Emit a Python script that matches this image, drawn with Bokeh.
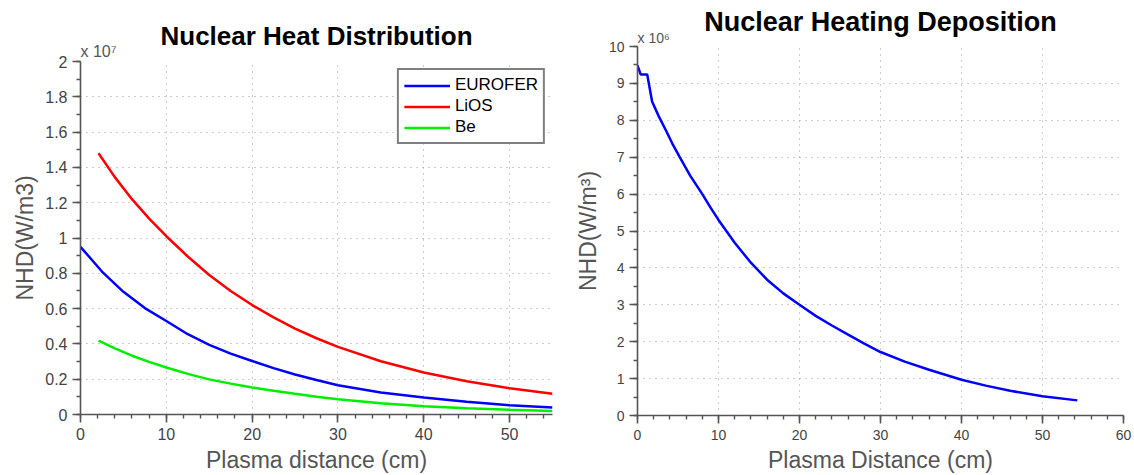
from bokeh.plotting import figure
from bokeh.models import Legend, LegendItem, FixedTicker, Range1d, Title
from bokeh.embed import file_html
from bokeh.resources import INLINE

# ---------------- data ----------------
# Left chart: Nuclear Heat Distribution, NHD in units of 1e7 W/m3
eurofer_x = [0, 2.5, 5, 7.5, 10, 12.5, 15, 17.5, 20, 22.5, 25, 27.5, 30, 35, 40, 45, 50, 55]
eurofer_nhd = [0.95, 0.81, 0.695, 0.603, 0.53, 0.455, 0.395, 0.345, 0.303, 0.263, 0.227,
               0.195, 0.166, 0.125, 0.096, 0.072, 0.053, 0.040]
lios_x = [2.1, 4, 6, 8, 10, 12.5, 15, 17.5, 20, 22.5, 25, 27.5, 30, 35, 40, 45, 50, 55]
lios_nhd = [1.48, 1.345, 1.22, 1.11, 1.01, 0.895, 0.79, 0.70, 0.62, 0.55, 0.487, 0.432,
            0.383, 0.302, 0.238, 0.188, 0.149, 0.117]
be_x = [2.1, 4, 6, 8, 10, 12.5, 15, 17.5, 20, 22.5, 25, 27.5, 30, 35, 40, 45, 50, 55]
be_nhd = [0.419, 0.375, 0.333, 0.298, 0.266, 0.23, 0.199, 0.175, 0.153, 0.134, 0.117,
          0.101, 0.087, 0.064, 0.047, 0.036, 0.027, 0.020]
series_names = ["EUROFER", "LiOS", "Be"]
left_scale_text = "x 10⁷"

# Right chart: Nuclear Heating Deposition, NHD in units of 1e6 W/m3
deposition_x = [0, 0.4, 1.2, 1.8, 2.6, 3.5, 4.3, 5.2, 6.5, 8, 9, 10, 12, 14, 16, 18, 20,
                22, 24, 26, 28, 30, 33, 36, 40, 43, 46, 50, 54.3]
deposition_nhd = [9.49, 9.24, 9.24, 8.51, 8.12, 7.73, 7.37, 7.01, 6.5, 6.0, 5.64, 5.3,
                  4.68, 4.14, 3.68, 3.31, 3.0, 2.70, 2.44, 2.19, 1.95, 1.72, 1.46, 1.24,
                  0.97, 0.81, 0.67, 0.52, 0.41]
right_scale_text = "x 10⁶"

# ticks
left_x_ticks = [0, 10, 20, 30, 40, 50]
left_y_ticks = [0, 0.2, 0.4, 0.6, 0.8, 1, 1.2, 1.4, 1.6, 1.8, 2]
left_y_labels = ["0", "0.2", "0.4", "0.6", "0.8", "1", "1.2", "1.4", "1.6", "1.8", "2"]
right_x_ticks = [0, 10, 20, 30, 40, 50, 60]
right_y_ticks = [0, 1, 2, 3, 4, 5, 6, 7, 8, 9, 10]

AX = "#555555"
GRID = "#9a9a9a"
FONT = "Liberation Sans"


def style(p, xt, xminor, yt, yminor, tick_size):
    p.xaxis.ticker = FixedTicker(ticks=xt, minor_ticks=xminor)
    p.yaxis.ticker = FixedTicker(ticks=yt, minor_ticks=yminor)
    p.outline_line_color = None
    for ax in (p.xaxis[0], p.yaxis[0]):
        ax.axis_line_color = AX
        ax.axis_line_width = 1.6
        ax.major_tick_line_color = AX
        ax.major_tick_line_width = 1.6
        ax.minor_tick_line_color = AX
        ax.minor_tick_line_width = 1.4
        ax.major_tick_out = 8
        ax.major_tick_in = 0
        ax.minor_tick_out = 4
        ax.minor_tick_in = 0
        ax.major_label_text_font = FONT
        ax.major_label_text_font_size = tick_size
        ax.major_label_text_color = "#444444"
        ax.axis_label_text_font = FONT
        ax.axis_label_text_font_style = "normal"
        ax.axis_label_text_font_size = "23px"
        ax.axis_label_text_color = "#555555"
    for g in (p.xgrid[0], p.ygrid[0]):
        g.grid_line_color = GRID
        g.grid_line_dash = "1 5"
        g.grid_line_width = 1


def set_titles(p, text, size, standoff, scale_text, scale_size, scale_standoff):
    # scale note ("x 10^n") sits right above the frame, the main title above it
    p.add_layout(Title(text=scale_text, align="left", offset=0, standoff=scale_standoff,
                       text_font=FONT, text_font_style="normal", text_font_size=scale_size,
                       text_color="#555555"), "above")
    p.title.text = text
    p.title.align = "center"
    p.title.text_font = FONT
    p.title.text_font_style = "bold"
    p.title.text_font_size = size
    p.title.text_color = "black"
    p.title.standoff = standoff


# ---------------- left figure ----------------
p1 = figure(width=567, height=475, output_backend="svg", toolbar_location=None,
            x_range=Range1d(0, 55), y_range=Range1d(0, 2),
            min_border_left=80, min_border_right=15, min_border_top=61, min_border_bottom=60)
style(p1, left_x_ticks, [v for v in range(0, 56, 2)],
      left_y_ticks, [v / 10 for v in range(0, 21)], "16px")
set_titles(p1, "Nuclear Heat Distribution", "26px", -23, left_scale_text, "16px", 3)
p1.yaxis.major_label_overrides = dict(zip(left_y_ticks, left_y_labels))
p1.xaxis.axis_label = "Plasma distance (cm)"
p1.yaxis.axis_label = "NHD(W/m3)"
p1.xaxis.major_label_standoff = 5
p1.yaxis.major_label_standoff = 5
p1.xaxis.axis_label_standoff = 4
p1.yaxis.axis_label_standoff = 4

r1 = p1.line(eurofer_x, eurofer_nhd, line_color="#0000ff", line_width=2.5)
r2 = p1.line(lios_x, lios_nhd, line_color="#ff0000", line_width=2.5)
r3 = p1.line(be_x, be_nhd, line_color="#00ee00", line_width=2.5)

legend = Legend(items=[LegendItem(label=series_names[0], renderers=[r1]),
                       LegendItem(label=series_names[1], renderers=[r2]),
                       LegendItem(label=series_names[2], renderers=[r3])],
                location="top_right", margin=7, padding=5, spacing=1,
                glyph_width=46, glyph_height=19, label_height=19, label_standoff=5,
                label_text_font=FONT, label_text_font_size="17px", label_text_color="black",
                border_line_color="black", border_line_width=2,
                background_fill_color="white", background_fill_alpha=1)
p1.add_layout(legend)

# ---------------- right figure ----------------
p2 = figure(width=567, height=475, output_backend="svg", toolbar_location=None,
            x_range=Range1d(0, 60), y_range=Range1d(0, 10),
            min_border_left=70, min_border_right=11, min_border_top=46, min_border_bottom=59)
style(p2, right_x_ticks, [v for v in range(0, 61, 2)],
      right_y_ticks, [v / 2 for v in range(0, 21)], "14px")
set_titles(p2, "Nuclear Heating Deposition", "27px", -20, right_scale_text, "14px", 2)
p2.xaxis.axis_label = "Plasma Distance (cm)"
p2.yaxis.axis_label = "NHD(W/m³)"
p2.xaxis.major_label_standoff = 6
p2.yaxis.major_label_standoff = 5
p2.xaxis.axis_label_standoff = 4
p2.yaxis.axis_label_standoff = 5

p2.line(deposition_x, deposition_nhd, line_color="#0000ff", line_width=2.5)

# Two independent roots placed side by side (a bokeh row would align their frames,
# while the two panels of the original have different top margins).
html = file_html([p1, p2], INLINE)
side_by_side = ("<style>html, body { margin: 0 !important; padding: 0 !important; }"
                " body { display: flex !important; flex-direction: row !important;"
                " align-items: flex-start !important; }"
                " body > * { flex-shrink: 0; }</style>")
cut = html.rfind("</head>")
html = html[:cut] + side_by_side + html[cut:]
open("out.html", "w").write(html)
